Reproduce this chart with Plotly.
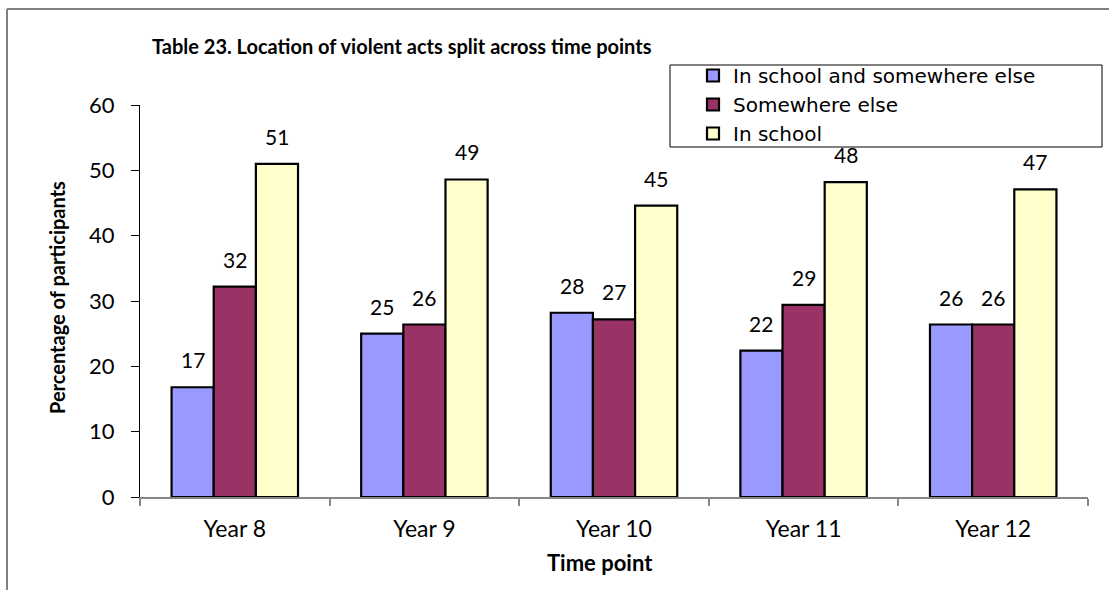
import plotly.graph_objects as go

categories = ["Year 8", "Year 9", "Year 10", "Year 11", "Year 12"]
series_names = ["In school and somewhere else", "Somewhere else", "In school"]
both_vals = [16.8, 25.0, 28.2, 22.4, 26.4]
else_vals = [32.2, 26.4, 27.2, 29.4, 26.4]
school_vals = [51.0, 48.6, 44.6, 48.2, 47.1]
colors = ["#9999FF", "#993366", "#FFFFCC"]
y_ticks = [0, 10, 20, 30, 40, 50, 60]

W, H = 1109, 590
L, R, T, B = 140, 1088, 105, 497
bargap = 0.333


def px(xp):
    return (xp - L) / (R - L)


def py(yp):
    return (B - yp) / (B - T)


fig = go.Figure()
all_vals = [both_vals, else_vals, school_vals]
for name, vals, col in zip(series_names, all_vals, colors):
    fig.add_trace(go.Bar(
        x=categories, y=vals, name=name,
        marker=dict(color=col, line=dict(color="black", width=2.2)),
        hoverinfo="x+y+name",
    ))

# data labels above bars
nser = len(all_vals)
w = (1 - bargap) / nser
annotations = []
for k, vals in enumerate(all_vals):
    for i, v in enumerate(vals):
        annotations.append(dict(
            x=i + (k - (nser - 1) / 2) * w, y=v, xref="x", yref="y",
            text=f"{round(v)}", showarrow=False, yanchor="bottom",
            yshift=13, font=dict(family="Lato", size=21, color="black"),
        ))

annotations += [
    dict(x=px(150), y=py(46), xref="paper", yref="paper", xanchor="left",
         yanchor="middle", showarrow=False,
         text="<b>Table 23. Location of violent acts split across time points</b>",
         font=dict(family="Lato", size=20, color="black")),
    dict(x=px(57), y=py(298), xref="paper", yref="paper", xanchor="center",
         yanchor="middle", showarrow=False, textangle=-90,
         text="<b>Percentage of participants</b>",
         font=dict(family="Lato", size=20, color="black")),
    dict(x=px(600), y=py(562), xref="paper", yref="paper", xanchor="center",
         yanchor="middle", showarrow=False, text="<b>Time point</b>",
         font=dict(family="Lato", size=22, color="black")),
]

shapes = [
    # outer frame
    dict(type="line", xref="paper", yref="paper", x0=px(7), y0=py(9),
         x1=px(1115), y1=py(9), line=dict(color="#7f7f7f", width=2)),
    dict(type="line", xref="paper", yref="paper", x0=px(7), y0=py(9),
         x1=px(7), y1=py(600), line=dict(color="#7f7f7f", width=2)),
    # legend box
    dict(type="rect", xref="paper", yref="paper", x0=px(670), y0=py(65),
         x1=px(1102), y1=py(147), line=dict(color="black", width=1),
         fillcolor="rgba(0,0,0,0)", layer="above"),
]

fig.update_layout(
    width=W, height=H, autosize=False,
    margin=dict(l=L, r=W - R, t=T, b=H - B, pad=0),
    paper_bgcolor="white", plot_bgcolor="white",
    barmode="group", bargap=bargap, bargroupgap=0,
    showlegend=True,
    legend=dict(x=px(693), y=py(56), xanchor="left", yanchor="top",
                bgcolor="rgba(0,0,0,0)", borderwidth=0,
                font=dict(family="DejaVu Sans", size=20, color="black"),
                traceorder="normal", tracegroupgap=0),
    annotations=annotations, shapes=shapes,
    xaxis=dict(type="category", categoryorder="array", categoryarray=categories,
               showline=True, linecolor="#868686", linewidth=1.5,
               ticks="outside", tickson="boundaries", ticklen=7,
               tickcolor="#868686", tickwidth=1.5,
               tickfont=dict(family="Lato", size=23, color="black"),
               showgrid=False, zeroline=False, ticklabelstandoff=11),
    yaxis=dict(range=[0, 60], tickvals=y_ticks, showline=True,
               linecolor="black", linewidth=1, ticks="outside", ticklen=8,
               tickcolor="black", showgrid=False, zeroline=False,
               tickfont=dict(family="Lato", size=22, color="black"),
               ticklabelstandoff=12),
)

fig.write_html("out.html", config={"displayModeBar": False},
               post_script="document.body.style.margin='0';")
